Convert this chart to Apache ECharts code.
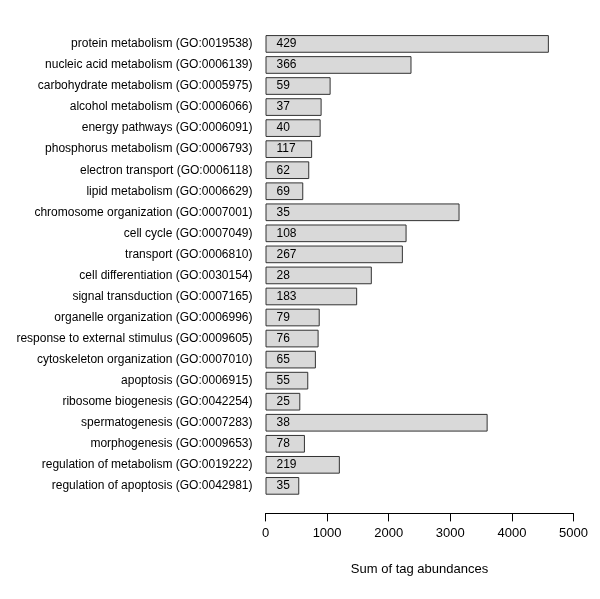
<!DOCTYPE html>
<html>
<head>
<meta charset="utf-8">
<title>GO categories</title>
<script src="https://cdn.jsdelivr.net/npm/echarts/dist/echarts.min.js"></script>
<style>
  html, body { margin: 0; padding: 0; background: #fff; }
  #myChart { width: 600px; height: 599px; }
</style>
</head>
<body>
<div id="myChart"></div>
<script>
// GO 分类，从上到下
let categories = [
  'protein metabolism (GO:0019538)',
  'nucleic acid metabolism (GO:0006139)',
  'carbohydrate metabolism (GO:0005975)',
  'alcohol metabolism (GO:0006066)',
  'energy pathways (GO:0006091)',
  'phosphorus metabolism (GO:0006793)',
  'electron transport (GO:0006118)',
  'lipid metabolism (GO:0006629)',
  'chromosome organization (GO:0007001)',
  'cell cycle (GO:0007049)',
  'transport (GO:0006810)',
  'cell differentiation (GO:0030154)',
  'signal transduction (GO:0007165)',
  'organelle organization (GO:0006996)',
  'response to external stimulus (GO:0009605)',
  'cytoskeleton organization (GO:0007010)',
  'apoptosis (GO:0006915)',
  'ribosome biogenesis (GO:0042254)',
  'spermatogenesis (GO:0007283)',
  'morphogenesis (GO:0009653)',
  'regulation of metabolism (GO:0019222)',
  'regulation of apoptosis (GO:0042981)'
]
// 标签丰度之和（柱长）
let abundances = [4600, 2370, 1057, 911, 895, 757, 710, 613, 3150, 2290, 2230,
  1726, 1488, 880, 862, 818, 694, 565, 3606, 640, 1207, 548]
// 柱内数字（基因数）
let counts = [429, 366, 59, 37, 40, 117, 62, 69, 35, 108, 267,
  28, 183, 79, 76, 65, 55, 25, 38, 78, 219, 35]
let xTicks = [0, 1000, 2000, 3000, 4000, 5000]

let myChart = echarts.init(document.getElementById('myChart'))
let option = {
  animation: false,
  textStyle: { fontFamily: 'Liberation Sans, Arial, sans-serif' },
  grid: { left: 265.5, right: 26.5, top: 33.4, bottom: 102.6 },
  xAxis: {
    type: 'value',
    min: xTicks[0],
    max: xTicks[xTicks.length - 1],
    interval: xTicks[1] - xTicks[0],
    offset: 17,
    name: 'Sum of tag abundances',
    nameLocation: 'middle',
    nameGap: 50,
    nameTextStyle: { color: '#000', fontSize: 13 },
    axisLine: { show: true, lineStyle: { color: '#000', width: 1 } },
    axisTick: { show: true, length: 8, lineStyle: { color: '#000' } },
    axisLabel: {
      color: '#000',
      fontSize: 13,
      margin: 14,
      formatter: function (v) { return String(v) }
    },
    splitLine: { show: false }
  },
  yAxis: {
    type: 'category',
    inverse: true,
    data: categories,
    axisLine: { show: false },
    axisTick: { show: false },
    axisLabel: { color: '#000', fontSize: 12, margin: 13 }
  },
  series: [
    {
      type: 'bar',
      data: abundances,
      barCategoryGap: '16%',
      itemStyle: { color: '#d9d9d9', borderColor: '#333', borderWidth: 1 },
      label: {
        show: true,
        position: [11, '50%'],
        align: 'left',
        verticalAlign: 'middle',
        color: '#000',
        fontSize: 12,
        formatter: function (p) { return counts[p.dataIndex] }
      }
    }
  ]
}
myChart.setOption(option)
</script>
</body>
</html>
